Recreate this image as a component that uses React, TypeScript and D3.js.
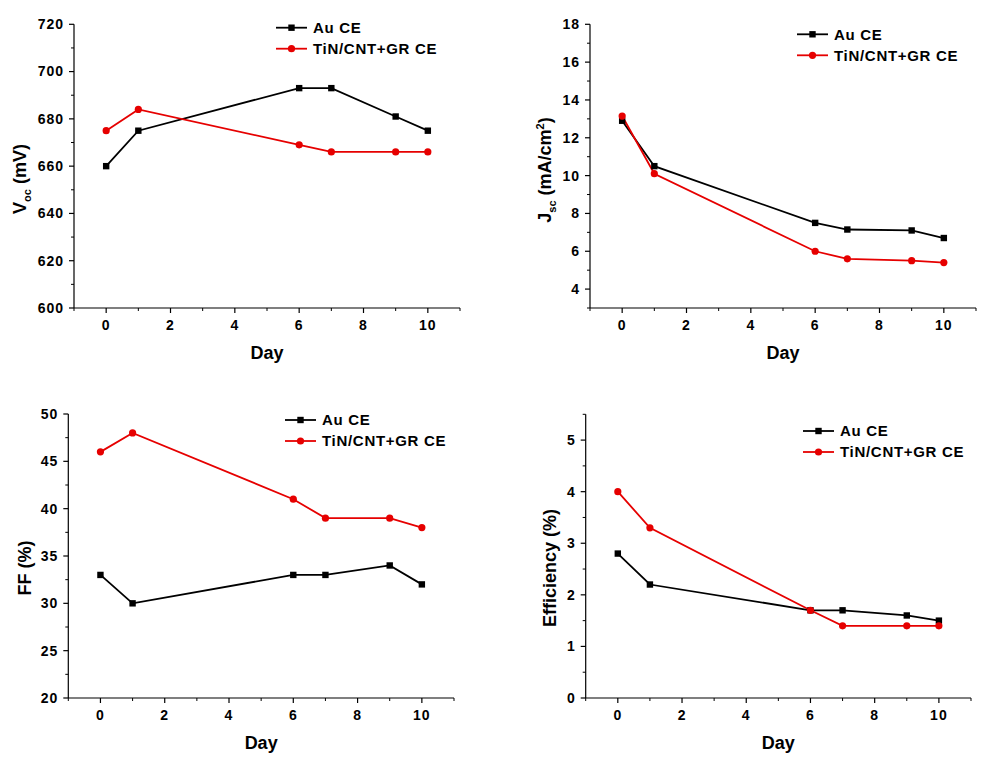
import React from "react";
import * as d3 from "d3";

const days = [0, 1, 6, 7, 9, 10];
const xTicks = [0, 2, 4, 6, 8, 10];
const xMinor = [-1, 1, 3, 5, 7, 9, 11];
const seriesNames = ["Au CE", "TiN/CNT+GR CE"];

const vocAu = [660, 675, 693, 693, 681, 675];
const vocTiN = [675, 684, 669, 666, 666, 666];
const vocTicks = [600, 620, 640, 660, 680, 700, 720];
const vocMinor = [610, 630, 650, 670, 690, 710];

const jscAu = [12.9, 10.5, 7.5, 7.15, 7.1, 6.7];
const jscTiN = [13.15, 10.1, 6.0, 5.6, 5.5, 5.4];
const jscTicks = [4, 6, 8, 10, 12, 14, 16, 18];
const jscMinor = [3, 5, 7, 9, 11, 13, 15, 17];

const ffAu = [33, 30, 33, 33, 34, 32];
const ffTiN = [46, 48, 41, 39, 39, 38];
const ffTicks = [20, 25, 30, 35, 40, 45, 50];
const ffMinor = [22.5, 27.5, 32.5, 37.5, 42.5, 47.5];

const effAu = [2.8, 2.2, 1.7, 1.7, 1.6, 1.5];
const effTiN = [4.0, 3.3, 1.7, 1.4, 1.4, 1.4];
const effTicks = [0, 1, 2, 3, 4, 5];
const effMinor = [0.5, 1.5, 2.5, 3.5, 4.5, 5.5];

const FONT = "'Liberation Sans', Arial, sans-serif";
const RED = "#e60000";
const BLACK = "#000";

type PanelProps = {
  left: number; right: number; top: number; bottom: number;
  yDomain: [number, number];
  yTicks: number[]; yMinor: number[];
  au: number[]; tin: number[];
  yTitle: React.ReactNode;
  yTitleX: number; yTitleY: number;
  legX: number; legY: number;
};

function Panel(p: PanelProps) {
  const x = d3.scaleLinear().domain([-1, 11]).range([p.left, p.right]);
  const y = d3.scaleLinear().domain(p.yDomain).range([p.bottom, p.top]);
  const line = d3.line<number>().x((_, i) => x(days[i])).y((v) => y(v));
  const legGap = 21;
  return (
    <g>
      {/* axes */}
      <line x1={p.left} x2={p.left} y1={p.top} y2={p.bottom} stroke="#000" strokeWidth={1.2} />
      <line x1={p.left} x2={p.right} y1={p.bottom} y2={p.bottom} stroke="#000" strokeWidth={1.2} />
      {xTicks.map((t) => (
        <g key={"xt" + t}>
          <line x1={x(t)} x2={x(t)} y1={p.bottom} y2={p.bottom + 5} stroke="#000" strokeWidth={1.2} />
          <text x={x(t)} y={p.bottom + 22} textAnchor="middle" fontSize={14} fontWeight="bold" letterSpacing={1} fontFamily={FONT}>{t}</text>
        </g>
      ))}
      {xMinor.map((t) => (
        <line key={"xm" + t} x1={x(t)} x2={x(t)} y1={p.bottom} y2={p.bottom + 3} stroke="#000" strokeWidth={1} />
      ))}
      {p.yTicks.map((t) => (
        <g key={"yt" + t}>
          <line x1={p.left - 5} x2={p.left} y1={y(t)} y2={y(t)} stroke="#000" strokeWidth={1.2} />
          <text x={p.left - 10} y={y(t)} dy="0.35em" textAnchor="end" fontSize={14} fontWeight="bold" letterSpacing={1} fontFamily={FONT}>{t}</text>
        </g>
      ))}
      {p.yMinor.map((t) => (
        <line key={"ym" + t} x1={p.left - 3} x2={p.left} y1={y(t)} y2={y(t)} stroke="#000" strokeWidth={1} />
      ))}
      {/* titles */}
      <text x={(p.left + p.right) / 2} y={p.bottom + 51} textAnchor="middle" fontSize={18} fontWeight="bold" fontFamily={FONT}>Day</text>
      <text transform={`translate(${p.yTitleX},${p.yTitleY}) rotate(-90)`} textAnchor="middle" dy="0.35em" fontSize={18} fontWeight="bold" fontFamily={FONT}>{p.yTitle}</text>
      {/* series */}
      <path d={line(p.au) || ""} fill="none" stroke={BLACK} strokeWidth={1.8} />
      <path d={line(p.tin) || ""} fill="none" stroke={RED} strokeWidth={1.8} />
      {p.au.map((v, i) => (
        <rect key={"a" + i} x={x(days[i]) - 3.2} y={y(v) - 3.2} width={6.4} height={6.4} fill={BLACK} />
      ))}
      {p.tin.map((v, i) => (
        <circle key={"t" + i} cx={x(days[i])} cy={y(v)} r={3.6} fill={RED} />
      ))}
      {/* legend */}
      <line x1={p.legX} x2={p.legX + 31} y1={p.legY} y2={p.legY} stroke={BLACK} strokeWidth={1.8} />
      <rect x={p.legX + 15.5 - 3.2} y={p.legY - 3.2} width={6.4} height={6.4} fill={BLACK} />
      <text x={p.legX + 37} y={p.legY} dy="0.36em" fontSize={15} fontWeight="bold" letterSpacing={0.7} fontFamily={FONT}>{seriesNames[0]}</text>
      <line x1={p.legX} x2={p.legX + 31} y1={p.legY + legGap} y2={p.legY + legGap} stroke={RED} strokeWidth={1.8} />
      <circle cx={p.legX + 15.5} cy={p.legY + legGap} r={3.6} fill={RED} />
      <text x={p.legX + 37} y={p.legY + legGap} dy="0.36em" fontSize={15} fontWeight="bold" letterSpacing={0.7} fontFamily={FONT}>{seriesNames[1]}</text>
    </g>
  );
}

export default function App() {
  return (
    <div style={{ position: "absolute", left: 0, top: 0 }}>
      <svg width={987} height={766} style={{ display: "block", background: "#fff" }}>
        <Panel left={74} right={460} top={24.3} bottom={308} yDomain={[600, 720]}
          yTicks={vocTicks} yMinor={vocMinor} au={vocAu} tin={vocTiN}
          yTitle={<>V<tspan fontSize={11} dy={5}>oc</tspan><tspan dy={-5}> (mV)</tspan></>}
          yTitleX={20} yTitleY={179} legX={276} legY={27.7} />
        <Panel left={590} right={976} top={24.3} bottom={308} yDomain={[3, 18]}
          yTicks={jscTicks} yMinor={jscMinor} au={jscAu} tin={jscTiN}
          yTitle={<>J<tspan fontSize={11} dy={5}>sc</tspan><tspan dy={-5}> (mA/cm</tspan><tspan fontSize={11} dy={-7}>2</tspan><tspan dy={7}>)</tspan></>}
          yTitleX={545} yTitleY={170} legX={797} legY={34.3} />
        <Panel left={68.3} right={454} top={414} bottom={698} yDomain={[20, 50]}
          yTicks={ffTicks} yMinor={ffMinor} au={ffAu} tin={ffTiN}
          yTitle={<>FF (%)</>}
          yTitleX={25} yTitleY={568} legX={285} legY={420} />
        <Panel left={585.7} right={971} top={414.3} bottom={698} yDomain={[0, 5.5]}
          yTicks={effTicks} yMinor={effMinor} au={effAu} tin={effTiN}
          yTitle={<>Efficiency (%)</>}
          yTitleX={550} yTitleY={568} legX={803} legY={431} />
      </svg>
    </div>
  );
}
